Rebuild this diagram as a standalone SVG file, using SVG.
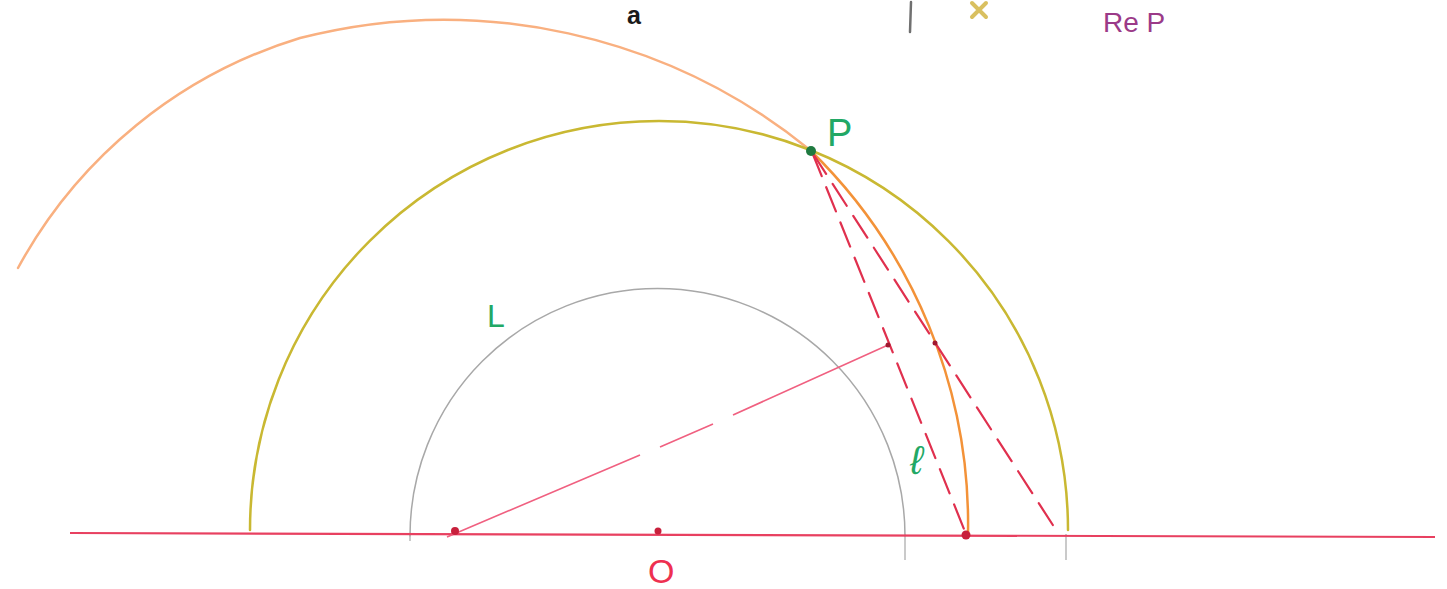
<svg xmlns="http://www.w3.org/2000/svg" width="1447" height="589" viewBox="0 0 1447 589">
<style>
.lbl{font-family:"Liberation Sans","DejaVu Sans",sans-serif}
.grn{fill:#22a865}
.dash{stroke:#e0304e;stroke-width:2.2;stroke-dasharray:26 12;fill:none;stroke-linecap:round}
.dot{fill:#c8203c}
.tick{stroke:#b8b8b8;stroke-width:1.5}
</style>
<rect width="1447" height="589" fill="#ffffff"/>
<g id="arcs" fill="none" stroke-linecap="round">
  <path id="orange-upper" d="M18,268 A480,480 0 0 1 300,38 A580,580 0 0 1 810,150" stroke="#f9b080" stroke-width="2.5"/>
  <path id="orange-lower" d="M810,150 A522,522 0 0 1 968,534" stroke="#f39238" stroke-width="2.5"/>
  <path id="yellow" d="M250,530 A409,409 0 0 1 1068,530" stroke="#c9b832" stroke-width="2.5"/>
  <path id="gray" d="M410,536 A247.5,247.5 0 0 1 905,536" stroke="#a8a8a8" stroke-width="1.5"/>
</g>
<g id="ticks">
  <line class="tick" x1="905" y1="534" x2="905" y2="560"/>
  <line class="tick" x1="1066" y1="534" x2="1066" y2="560"/>
  <line class="tick" x1="410" y1="534" x2="410" y2="541"/>
</g>
<g id="connectors" fill="none">
  <line x1="70" y1="533" x2="1435" y2="537" stroke="#e84060" stroke-width="2.2"/>
  <line class="dash" x1="812" y1="152" x2="966" y2="534"/>
  <line class="dash" x1="812" y1="152" x2="1058" y2="533"/>
  <path d="M447,537 L640,455 M660,447 L713,424 M733,415 L888,345" stroke="#f06080" stroke-width="1.6"/>
</g>
<g id="points">
  <circle class="dot" cx="455" cy="531" r="4"/>
  <circle class="dot" cx="658" cy="531" r="3.5"/>
  <circle class="dot" cx="966" cy="535" r="4.5"/>
  <circle cx="888" cy="345" r="2.5" fill="#a01830"/>
  <circle cx="935" cy="343" r="2.5" fill="#a01830"/>
  <circle id="P-point" cx="811" cy="151" r="5" fill="#1f7a40"/>
</g>
<g id="marks">
  <line x1="911" y1="2" x2="910" y2="32" stroke="#707070" stroke-width="2.5" stroke-linecap="round"/>
  <path d="M972,3 L986,17 M986,3 L972,17" stroke="#d9c060" stroke-width="4" stroke-linecap="round"/>
</g>
<g id="labels">
  <text class="lbl" x="627" y="24" font-size="25" font-weight="bold" fill="#1a1a1a">a</text>
  <text class="lbl" x="1103" y="32" font-size="28" fill="#9b3a88">Re P</text>
  <text id="label-P" class="lbl grn" x="827" y="146" font-size="38">P</text>
  <text id="label-L" class="lbl grn" x="487" y="327" font-size="32">L</text>
  <text id="label-l" class="lbl grn" x="910" y="474" font-size="40" font-family="DejaVu Serif,serif" font-style="italic">ℓ</text>
  <text id="label-O" class="lbl" x="648" y="583" font-size="34" fill="#ee3050">O</text>
</g>
</svg>
